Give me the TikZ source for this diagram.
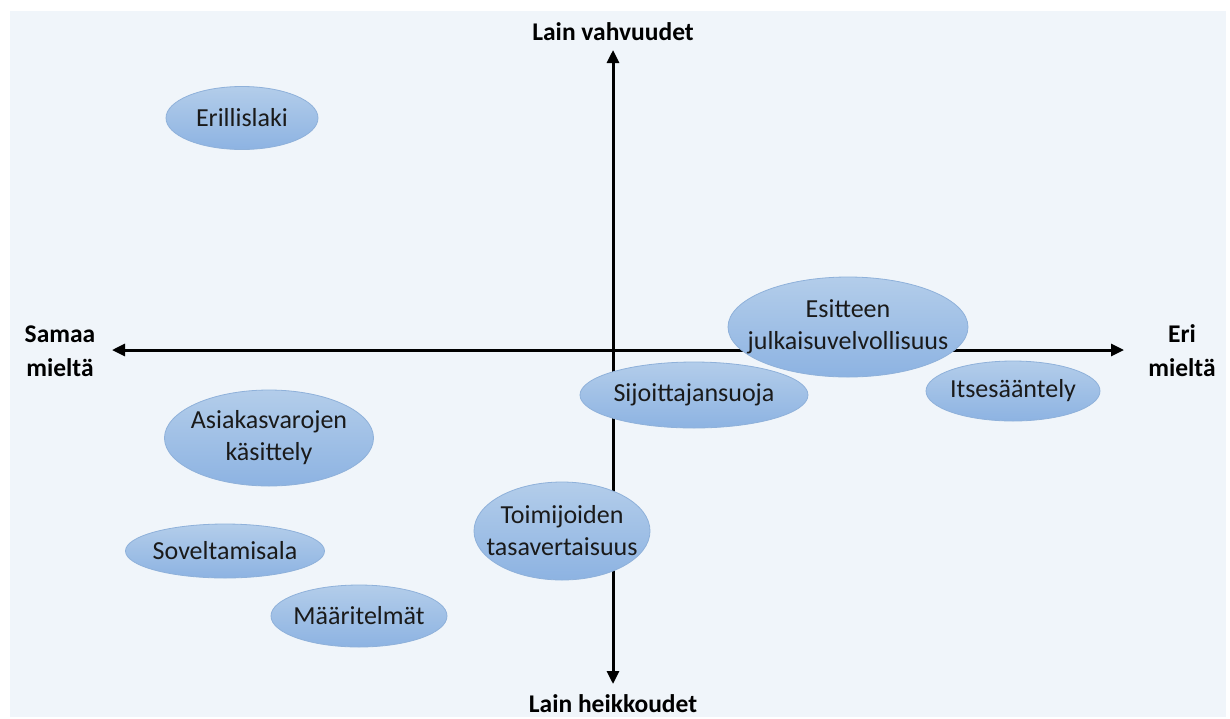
\documentclass[tikz,border=0pt]{standalone}
\usepackage{fontspec}
\setmainfont{Carlito}
\usetikzlibrary{shapes.geometric,arrows.meta}
\definecolor{bgc}{HTML}{F0F5FA}
\definecolor{eltop}{HTML}{B3CDEA}
\definecolor{elbot}{HTML}{8DB3E2}
\definecolor{eledge}{HTML}{8FB1DA}
\definecolor{txt}{HTML}{1A1A1A}
\tikzset{
  bubble/.style={ellipse, inner sep=0pt, top color=eltop, bottom color=elbot, draw=eledge, line width=0.8pt},
  bubtext/.style={text=txt, align=center, inner sep=0pt, font=\fontsize{26}{32}\selectfont},
  axislabel/.style={font=\bfseries\fontsize{25.5}{34}\selectfont, align=center, text=black},
  axisline/.style={line width=3pt, -{Triangle[length=13pt,width=12pt]}, black}
}
\begin{document}
\begin{tikzpicture}[x=1pt,y=-1pt]
\useasboundingbox (0,0) rectangle (1230,718);
\fill[white] (0,0) rectangle (1230,718);
\fill[bgc] (10,11) rectangle (1226,717);
% axes
\coordinate (c) at (613,350);
\coordinate (left) at (112,350);
\coordinate (right) at (1124,350);
\coordinate (top) at (613,50);
\coordinate (bot) at (613,684);
\draw[axisline] (c) -- (left);
\draw[axisline] (c) -- (right);
\draw[axisline] (c) -- (top);
\draw[axisline] (c) -- (bot);
% axis labels
\node[axislabel] (lv) at (613,32) {Lain vahvuudet};
\node[axislabel] (lh) at (613,704) {Lain heikkoudet};
\node[axislabel] (sm) at (60,351) {Samaa\\mieltä};
\node[axislabel] (em) at (1182,351) {Eri\\mieltä};
% bubbles
\node[bubble, minimum width=152pt, minimum height=63pt, label={[bubtext]center:Erillislaki}] (eri) at (242,118) {};
\node[bubble, minimum width=240pt, minimum height=100pt, label={[bubtext]center:Esitteen\\julkaisuvelvollisuus}] (esi) at (848,327) {};
\node[bubble, minimum width=228pt, minimum height=66pt, label={[bubtext]center:Sijoittajansuoja}] (sij) at (694,395) {};
\node[bubble, minimum width=174pt, minimum height=60pt, label={[bubtext]center:Itsesääntely}] (its) at (1013,391) {};
\node[bubble, minimum width=209pt, minimum height=96pt, label={[bubtext]center:Asiakasvarojen\\käsittely}] (asi) at (269,438) {};
\node[bubble, minimum width=199pt, minimum height=54pt, label={[bubtext]center:Soveltamisala}] (sov) at (225,551) {};
\node[bubble, minimum width=176pt, minimum height=62pt, label={[bubtext]center:Määritelmät}] (maa) at (359,616) {};
\node[bubble, minimum width=176pt, minimum height=98pt, label={[bubtext]center:Toimijoiden\\tasavertaisuus}] (toi) at (562,531) {};
\end{tikzpicture}
\end{document}
